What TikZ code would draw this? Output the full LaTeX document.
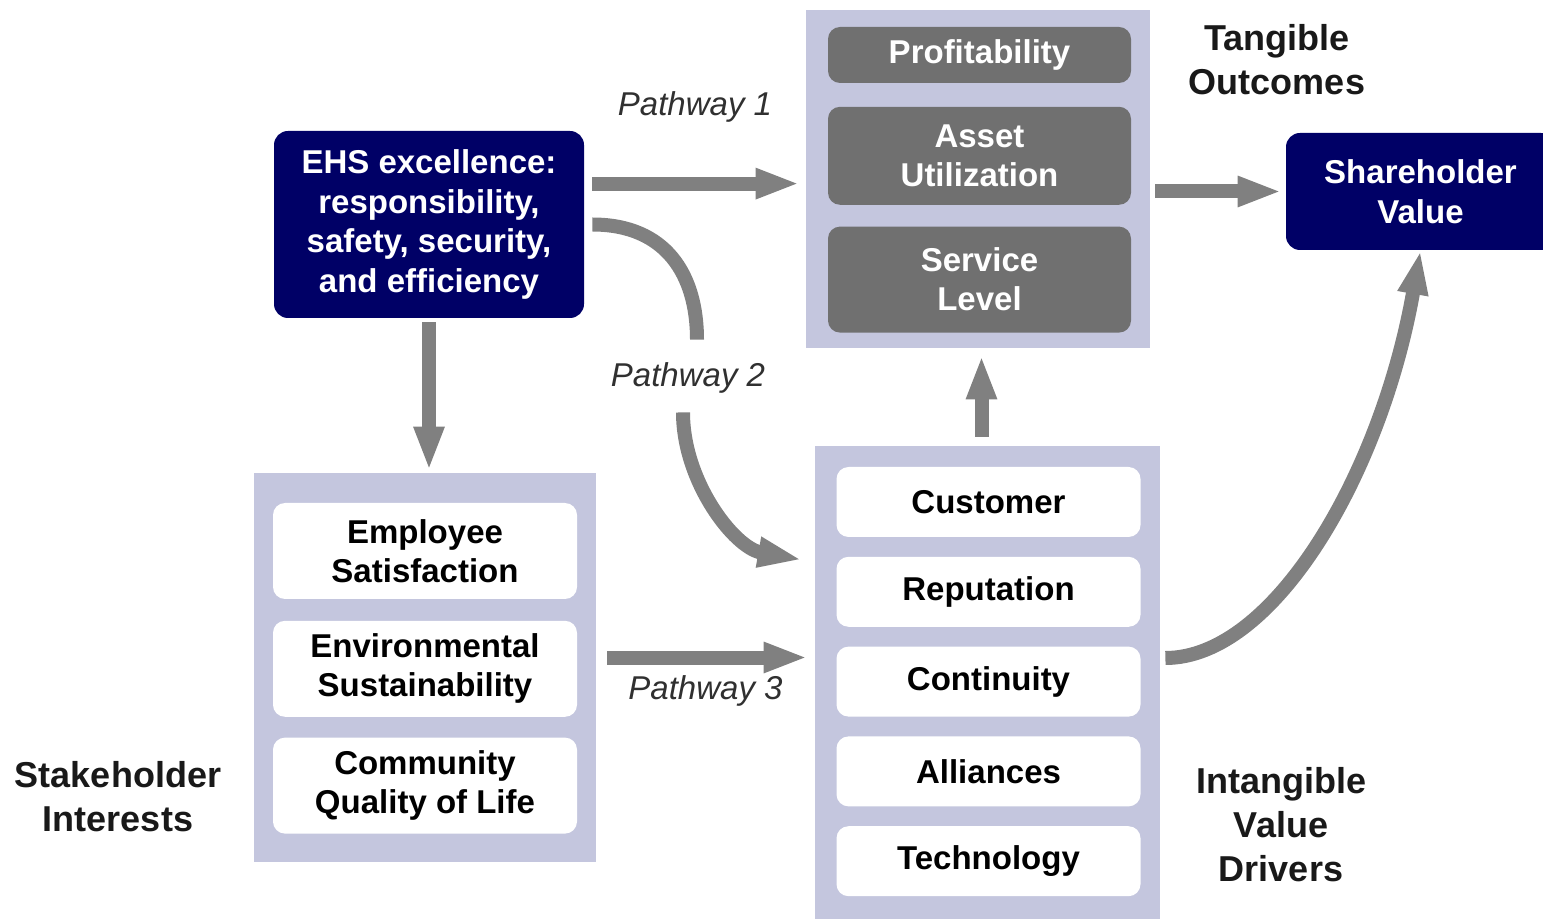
\documentclass[tikz,border=0pt]{standalone}
\usepackage{fontspec}
\setmainfont{Liberation Sans}
\usetikzlibrary{positioning, arrows.meta}
\definecolor{panelblue}{RGB}{196,198,222}
\definecolor{boxgray}{RGB}{112,112,112}
\definecolor{ehsnavy}{RGB}{0,0,102}
\definecolor{arrowgray}{RGB}{128,128,128}
\definecolor{labelgray}{RGB}{48,48,48}
\tikzset{
  panel/.style={fill=panelblue, inner sep=0pt},
  darkbox/.style={fill=boxgray, rounded corners=6pt, text=white, align=center, inner sep=0pt,
    minimum width=151.5pt, font=\bfseries\fontsize{16.5}{19.5}\selectfont},
  whitebox/.style={fill=white, rounded corners=6pt, align=center, inner sep=0pt,
    minimum width=152pt, font=\bfseries\fontsize{16.5}{19.5}\selectfont},
  navybox/.style={fill=ehsnavy, rounded corners=7pt, text=white, align=center, inner sep=0pt,
    font=\bfseries\fontsize{16.5}{19.75}\selectfont},
  sidelabel/.style={align=center, text=black!90, font=\bfseries\fontsize{18}{22}\selectfont},
  pathlabel/.style={text=labelgray, font=\itshape\fontsize{16.5}{19.5}\selectfont},
  flow/.style={draw=arrowgray, line width=7pt, -{Triangle[length=22pt,width=14pt]}},
  flowline/.style={draw=arrowgray, line width=7pt}
}

\begin{document}
\begin{tikzpicture}[x=0.5pt, y=0.5pt]
  \path[use as bounding box, clip] (0,0) rectangle (1543,-919);

  % tangible outcomes
  \node[panel, minimum width=172pt, minimum height=169pt] (outcomes) at (978,-179) {};
  \node[darkbox, minimum height=28pt] (profit) at (979.5,-55) {Profitability};
  \node[darkbox, minimum height=49pt, below=11.5pt of profit] (asset) {Asset\\Utilization};
  \node[darkbox, minimum height=53pt, below=10.5pt of asset] (service) {Service\\Level};
  \node[sidelabel] (tangible) at (1277,-60) {Tangible\\Outcomes};

  % stakeholder interests
  \node[panel, minimum width=171pt, minimum height=194.5pt] (stake) at (425,-667.5) {};
  \node[whitebox, minimum height=48pt] (employee) at (425,-551) {Employee\\Satisfaction};
  \node[whitebox, minimum height=48pt, below=10.5pt of employee] (environ) {Environmental\\Sustainability};
  \node[whitebox, minimum height=48pt, below=10pt of environ] (community) {Community\\Quality of Life};
  \node[sidelabel] (interests) at (118,-797) {Stakeholder\\Interests};

  % intangible value drivers
  \node[panel, minimum width=172.5pt, minimum height=242pt] (drivers) at (987.5,-688) {};
  \node[whitebox, minimum height=35pt] (customer) at (988.5,-502) {Customer};
  \node[whitebox, minimum height=35pt, below=9.5pt of customer] (reputation) {Reputation};
  \node[whitebox, minimum height=35pt, below=9.5pt of reputation] (continuity) {Continuity};
  \node[whitebox, minimum height=35pt, below=9.5pt of continuity] (alliances) {Alliances};
  \node[whitebox, minimum height=35pt, below=9.5pt of alliances] (technology) {Technology};
  \node[sidelabel] (intangible) at (1281,-825) {Intangible\\Value\\Drivers};

  \node[navybox, minimum width=155pt, minimum height=93.5pt] (ehs) at (429,-224.5)
    {EHS excellence:\\responsibility,\\safety, security,\\and efficiency};
  \node[navybox, minimum width=134.5pt, minimum height=58.5pt] (share) at (1420.5,-191.5)
    {Shareholder\\Value};
  \node[pathlabel] (pw2) at (688,-378) {Pathway 2};

  \draw[flow, shorten <=4pt, shorten >=3pt] ([yshift=-26.5pt]ehs.north east)
    -- node[pathlabel, above=24pt] (pw1) {Pathway 1} ([yshift=-26.5pt]ehs.north east -| outcomes.west);
  \draw[flow, shorten <=2.5pt, shorten >=2pt] (outcomes.east |- share.west) -- (share.west);
  \draw[flow, shorten <=2pt, shorten >=1pt] (ehs.south) -- (ehs.south |- stake.north);
  \draw[flowline, shorten <=4pt, shorten >=8pt] (ehs.east) to[out=0, in=90, looseness=1.2] ([xshift=4.5pt]pw2.north);
  \draw[flow, shorten <=6pt, shorten >=6.5pt] ([xshift=-2.5pt]pw2.south) to[out=-90, in=170] ([yshift=63pt]drivers.west);
  \draw[flow, shorten <=5.5pt, shorten >=3.5pt] ([yshift=5pt]stake.east)
    -- node[pathlabel, below=2pt] (pw3) {Pathway 3} ([yshift=5pt]stake.east -| drivers.west);
  \draw[flow, shorten <=4.5pt, shorten >=3.5pt] ([xshift=-3pt]drivers.north) -- ([xshift=-3pt]drivers.north |- outcomes.south);
  \draw[flow, shorten <=2.5pt] ([yshift=15pt]drivers.east)
    to[out=0, in=-100, out looseness=0.6, in looseness=1.2] (share.south);
\end{tikzpicture}
\end{document}
